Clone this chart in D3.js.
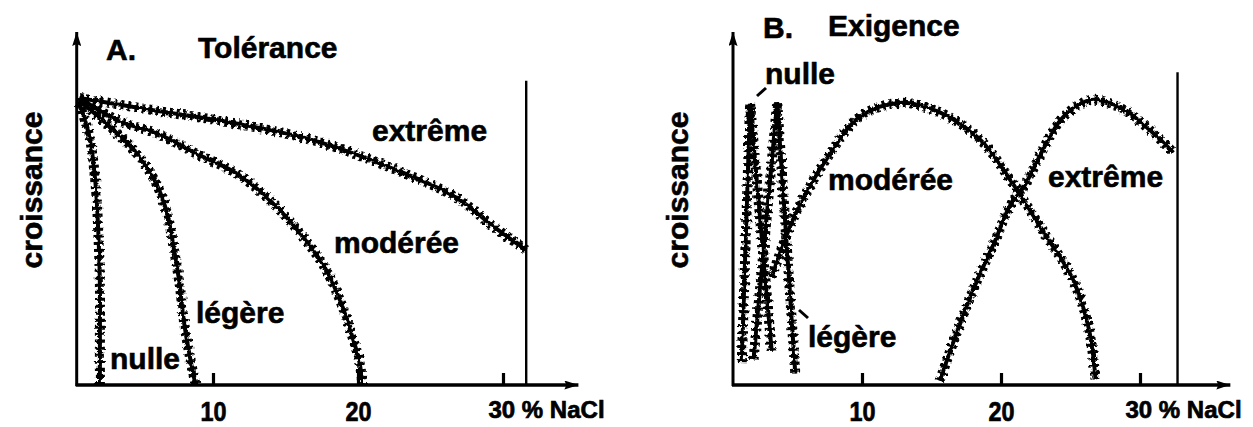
<!DOCTYPE html>
<html>
<head>
<meta charset="utf-8">
<script src="https://cdn.jsdelivr.net/npm/d3@7"></script>
<style>
  body { margin: 0; background: #fff; }
  .lbl { font-family: "Liberation Sans", Arial, sans-serif; font-weight: bold; font-size: 30px; fill: #000; stroke: #000; stroke-width: 0.6; }
  .tick text { font-family: "Liberation Sans", Arial, sans-serif; font-weight: bold; font-size: 27px; fill: #000; stroke: #000; stroke-width: 0.7; }
</style>
</head>
<body>
<svg id="chart"></svg>
<script>
// x ticks (% NaCl) shared by both panels
const xTicks = [10, 20, 30]

// A. Tolérance : [ % NaCl, croissance ]
const tolExtreme = [[0.8,100],[6.2,95.5],[11.7,91],[17.1,85],[22.6,75],[26.7,65.5],[29.4,55],[31.6,47]]
const tolModeree = [[0.8,100],[3.5,92],[6.2,87.5],[8.9,80.5],[11.7,73.5],[14.4,62],[16.3,51],[17.7,41],[18.8,29],[19.6,17],[20.1,8],[20.3,0]]
const tolLegere  = [[0.8,99],[3.0,89.5],[4.6,81.5],[6.0,71],[6.8,60.5],[7.3,47.5],[7.7,35],[8.0,22],[8.4,10],[8.8,0]]
const tolNulle   = [[0.8,98],[1.5,86],[1.9,70],[2.1,52],[2.2,35],[2.2,17],[2.2,0]]

// B. Exigence
const exiNulle   = [[1.35,8],[1.95,98],[3.5,12]]
const exiLegere  = [[2.2,9],[3.9,98.5],[5.2,4]]
const exiModeree = [[3.5,37.5],[5.25,60],[7.55,79.5],[9.85,93.5],[12.7,98.3],[15.6,95],[18.5,85.5],[20.8,70.5],[23.1,53],[25.1,37.5],[26.3,20],[26.8,2]]
const exiExtreme = [[15.6,1.5],[16.8,18],[18.2,35.5],[19.6,50.5],[20.6,62],[21.7,69.5],[23.4,85.5],[24.5,93.5],[26.5,99.3],[28.8,96],[30.9,88],[32.4,81]]

const W = 1253, H = 427

const svg = d3.select("#chart")
    .attr("width", W)
    .attr("height", H)

svg.append("rect").attr("width", W).attr("height", H).attr("fill", "#fff")

const defs = svg.append("defs")
defs.append("marker")
    .attr("id", "arrow")
    .attr("viewBox", "0 0 14 9")
    .attr("refX", 14).attr("refY", 4.5)
    .attr("markerWidth", 14).attr("markerHeight", 9)
    .attr("markerUnits", "userSpaceOnUse")
    .attr("orient", "auto")
    .append("path")
    .attr("d", "M0,0 L14,4.5 L0,9 L2,4.5 z")
    .attr("fill", "#000")

const rough = defs.append("filter")
    .attr("id", "rough")
    .attr("filterUnits", "userSpaceOnUse")
    .attr("x", 0).attr("y", 0).attr("width", W).attr("height", H)
rough.append("feTurbulence")
    .attr("type", "fractalNoise").attr("baseFrequency", 0.35)
    .attr("numOctaves", 1).attr("seed", 4).attr("result", "n")
rough.append("feDisplacementMap")
    .attr("in", "SourceGraphic").attr("in2", "n").attr("scale", 4)
    .attr("xChannelSelector", "R").attr("yChannelSelector", "G")

const y = d3.scaleLinear().domain([0, 100]).range([385, 98])

const drawPanel = (p) => {
    const x = p.x
    const g = svg.append("g")

    // y axis with arrow
    g.append("line")
        .attr("x1", x(p.origin)).attr("x2", x(p.origin))
        .attr("y1", y(0) + 1).attr("y2", y(123))
        .attr("stroke", "#000").attr("stroke-width", 3)
        .attr("marker-end", "url(#arrow)")

    // x axis with arrow
    g.append("line")
        .attr("x1", x(p.origin) - 1).attr("x2", x(p.end))
        .attr("y1", y(0)).attr("y2", y(0))
        .attr("stroke", "#000").attr("stroke-width", 3.5)
        .attr("marker-end", "url(#arrow)")

    // right wall
    g.append("line")
        .attr("x1", x(p.wall)).attr("x2", x(p.wall))
        .attr("y1", y(0)).attr("y2", y(p.wallTop))
        .attr("stroke", "#000").attr("stroke-width", 2.4)

    const axis = g.append("g")
        .attr("transform", "translate(0," + y(0) + ")")
        .call(d3.axisBottom(x).tickValues(xTicks).tickSize(-12).tickSizeOuter(0)
            .tickFormat((d) => d === 30 ? "30 % NaCl" : d))
    axis.select(".domain").remove()
    axis.selectAll(".tick line").attr("stroke", "#000").attr("stroke-width", 3.2)
    axis.selectAll(".tick text")
        .attr("y", (d) => d === 30 ? 33 : 36).attr("dy", null)
        .attr("text-anchor", (d) => d === 30 ? "start" : "middle")
        .attr("x", (d) => d === 30 ? -15 : 0)
        .style("font-size", (d) => d === 30 ? "24px" : null)
        .attr("textLength", (d) => d === 30 ? null : 26)
        .attr("lengthAdjust", "spacingAndGlyphs")

    const line = d3.line()
        .x((d) => x(d[0]))
        .y((d) => y(d[1]))

    const curves = g.append("g").attr("filter", "url(#rough)")
    p.series.forEach((s) => {
        const path = line.curve(s.sharp ? d3.curveLinear : d3.curveCatmullRom.alpha(0.5))(s.data)
        curves.append("path").attr("d", path)
            .attr("fill", "none").attr("stroke", "#000").attr("stroke-width", 4)
        curves.append("path").attr("d", path)
            .attr("fill", "none").attr("stroke", "#000").attr("stroke-width", 10)
            .attr("stroke-dasharray", "3 4")
    })

    p.labels.forEach((l) => {
        svg.append("text").attr("class", "lbl")
            .attr("x", l[1]).attr("y", l[2])
            .text(l[0])
    })

    svg.append("text").attr("class", "lbl")
        .attr("transform", "translate(" + p.yLabelX + ",190) rotate(-90)")
        .attr("text-anchor", "middle")
        .text("croissance")
}

drawPanel({
    x: d3.scaleLinear().domain([10, 30]).range([213, 503]),
    origin: 0.6, end: 35.2, wall: 31.6, wallTop: 106,
    yLabelX: 42,
    series: [
        { data: tolExtreme }, { data: tolModeree }, { data: tolLegere }, { data: tolNulle }
    ],
    labels: [
        ["A.", 106, 60], ["Tolérance", 198, 58],
        ["extrême", 372, 141], ["modérée", 334, 253], ["légère", 196, 323], ["nulle", 110, 369]
    ]
})

drawPanel({
    x: d3.scaleLinear().domain([10, 30]).range([862, 1140]),
    origin: 0.72, end: 36.5, wall: 32.7, wallTop: 109,
    yLabelX: 688,
    series: [
        { data: exiNulle, sharp: true }, { data: exiLegere, sharp: true },
        { data: exiModeree }, { data: exiExtreme }
    ],
    labels: [
        ["B.", 763, 38], ["Exigence", 828, 36],
        ["nulle", 765, 84], ["modérée", 828, 190], ["extrême", 1048, 187], ["légère", 808, 347]
    ]
})

// leader marks for "nulle" and "légère" in B
svg.append("path")
    .attr("d", "M757,96 L766,88")
    .attr("stroke", "#000").attr("stroke-width", 3).attr("fill", "none")
svg.append("path")
    .attr("d", "M799,310 L808,318")
    .attr("stroke", "#000").attr("stroke-width", 3).attr("fill", "none")
</script>
</body>
</html>
